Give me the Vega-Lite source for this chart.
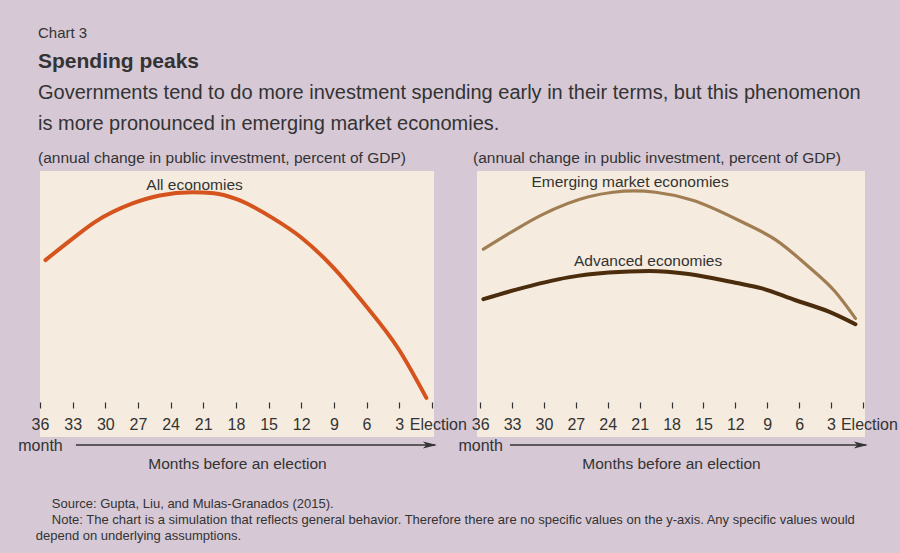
{
  "$schema": "https://vega.github.io/schema/vega-lite/v6.json",
  "background": "#d6c8d5",
  "padding": {"left": 17, "top": 25, "right": 4, "bottom": 12},
  "config": {
    "font": "Liberation Sans",
    "view": {"stroke": null},
    "title": {"color": "#333333", "anchor": "start", "fontWeight": "normal"}
  },
  "datasets": {
    "all": [
      {"month": 35.5, "value": 66.5}, {"month": 33, "value": 74.6}, {"month": 31, "value": 80.7},
      {"month": 27.5, "value": 87.8}, {"month": 25, "value": 90.8}, {"month": 22, "value": 92.0},
      {"month": 20, "value": 91.6}, {"month": 18, "value": 89.5}, {"month": 14.5, "value": 82.0},
      {"month": 12, "value": 75.0}, {"month": 9, "value": 63.5}, {"month": 6.5, "value": 51.5},
      {"month": 3, "value": 32.7}, {"month": 0.5, "value": 14.7}
    ],
    "groups": [
      {"group": "Emerging market economies", "month": 35.7, "value": 70.6},
      {"group": "Emerging market economies", "month": 33, "value": 77.2},
      {"group": "Emerging market economies", "month": 30.2, "value": 83.5},
      {"group": "Emerging market economies", "month": 25.8, "value": 90.3},
      {"group": "Emerging market economies", "month": 23.5, "value": 92.0},
      {"group": "Emerging market economies", "month": 21.5, "value": 92.5},
      {"group": "Emerging market economies", "month": 19.5, "value": 92.0},
      {"group": "Emerging market economies", "month": 16.1, "value": 89.1},
      {"group": "Emerging market economies", "month": 11.4, "value": 80.9},
      {"group": "Emerging market economies", "month": 8.2, "value": 74.1},
      {"group": "Emerging market economies", "month": 5.1, "value": 64.0},
      {"group": "Emerging market economies", "month": 2.6, "value": 54.6},
      {"group": "Emerging market economies", "month": 0.7, "value": 44.6},
      {"group": "Advanced economies", "month": 35.7, "value": 51.8},
      {"group": "Advanced economies", "month": 32.7, "value": 55.3},
      {"group": "Advanced economies", "month": 27.7, "value": 60.0},
      {"group": "Advanced economies", "month": 23.9, "value": 61.8},
      {"group": "Advanced economies", "month": 20.1, "value": 62.4},
      {"group": "Advanced economies", "month": 16.4, "value": 61.3},
      {"group": "Advanced economies", "month": 12.0, "value": 58.0},
      {"group": "Advanced economies", "month": 9.5, "value": 55.9},
      {"group": "Advanced economies", "month": 6.4, "value": 51.5},
      {"group": "Advanced economies", "month": 3.2, "value": 47.1},
      {"group": "Advanced economies", "month": 0.7, "value": 42.4}
    ],
    "labelsLeft": [{"label": "All economies", "month": 21.8, "value": 94.7}],
    "labelsRight": [
      {"label": "Emerging market economies", "month": 21.9, "value": 95.9},
      {"label": "Advanced economies", "month": 20.2, "value": 66.2}
    ]
  },
  "title": {
    "text": "depend on underlying assumptions.",
    "orient": "bottom",
    "anchor": "start",
    "fontSize": 13,
    "offset": 3,
    "dx": 18
  },
  "vconcat": [
    {
      "title": {
        "text": [
          "Source: Gupta, Liu, and Mulas-Granados (2015).",
          "Note: The chart is a simulation that reflects general behavior. Therefore there are no specific values on the y-axis. Any specific values would"
        ],
        "orient": "bottom",
        "anchor": "start",
        "fontSize": 13,
        "lineHeight": 16,
        "offset": 26,
        "dx": 34
      },
      "vconcat": [
        {
          "title": {"text": "Chart 3", "fontSize": 15, "frame": "group", "offset": 10, "dx": -2},
          "vconcat": [
            {
              "title": {
                "text": "Spending peaks",
                "fontSize": 21,
                "fontWeight": "bold",
                "frame": "group",
                "subtitle": [
                  "Governments tend to do more investment spending early in their terms, but this phenomenon",
                  "is more pronounced in emerging market economies."
                ],
                "subtitleFontSize": 20,
                "subtitleLineHeight": 31,
                "subtitlePadding": 11,
                "subtitleColor": "#333333",
                "offset": 17,
                "dx": -2
              },
              "bounds": "flush",
              "spacing": 43,
              "hconcat": [
                {
                  "width": 394,
                  "height": 266,
                  "title": {"text": "(annual change in public investment, percent of GDP)", "fontSize": 15.5, "frame": "group", "offset": 5, "dx": -2},
                  "view": {"fill": "#f5ecdf", "stroke": null},
                  "layer": [
                    {
                      "data": {"name": "all"},
                      "mark": {"type": "line", "color": "#d5541e", "strokeWidth": 4, "interpolate": "monotone", "strokeCap": "round"},
                      "encoding": {
                        "x": {
                          "field": "month", "type": "quantitative",
                          "scale": {"domain": [36, -0.2], "nice": false, "zero": false},
                          "axis": {
                            "values": [36, 33, 30, 27, 24, 21, 18, 15, 12, 9, 6, 3, 0],
                            "tickCount": 30,
                            "labelExpr": "datum.value == 0 ? 'Election' : datum.value == 36 ? ['36', 'month'] : datum.label",
                            "domain": false, "grid": false, "offset": -35,
                            "tickSize": 6, "tickColor": "#333333", "tickWidth": 1.2,
                            "labelFontSize": 16, "labelColor": "#333333", "labelPadding": 8, "labelLineHeight": 21,
                            "labelOverlap": false, "labelBound": false, "labelFlush": false,
                            "labelOffset": {"condition": {"test": "datum.value == 0", "value": 6}, "value": 0},
                            "title": "Months before an election", "titleFontSize": 15.5, "titleFontWeight": "normal",
                            "titleColor": "#333333", "titlePadding": 3
                          }
                        },
                        "y": {"field": "value", "type": "quantitative", "scale": {"domain": [0, 100], "nice": false}, "axis": null}
                      }
                    },
                    {
                      "data": {"name": "labelsLeft"},
                      "mark": {"type": "text", "fontSize": 15.5, "color": "#333333", "baseline": "middle"},
                      "encoding": {
                        "x": {"field": "month", "type": "quantitative"},
                        "y": {"field": "value", "type": "quantitative"},
                        "text": {"field": "label"}
                      }
                    },
                    {
                      "data": {"values": [{}]},
                      "mark": {"type": "rule", "color": "#333333", "strokeWidth": 1.5},
                      "encoding": {
                        "x": {"datum": 32.7, "type": "quantitative"},
                        "x2": {"datum": -0.3},
                        "y": {"datum": -3, "type": "quantitative"}
                      }
                    },
                    {
                      "data": {"values": [{}]},
                      "mark": {"type": "point", "shape": "M-1,-0.5L1,0L-1,0.5L-0.5,0Z", "size": 196, "filled": true, "color": "#333333", "opacity": 1},
                      "encoding": {
                        "x": {"datum": 0.18, "type": "quantitative"},
                        "y": {"datum": -3, "type": "quantitative"}
                      }
                    }
                  ]
                },
                {
                  "width": 388,
                  "height": 266,
                  "title": {"text": "(annual change in public investment, percent of GDP)", "fontSize": 15.5, "frame": "group", "offset": 5, "dx": -4},
                  "view": {"fill": "#f5ecdf", "stroke": null},
                  "layer": [
                    {
                      "data": {"name": "groups"},
                      "mark": {"type": "line", "interpolate": "monotone", "strokeCap": "round"},
                      "encoding": {
                        "x": {
                          "field": "month", "type": "quantitative",
                          "scale": {"domain": [36.3, -0.2], "nice": false, "zero": false},
                          "axis": {
                            "values": [36, 33, 30, 27, 24, 21, 18, 15, 12, 9, 6, 3, 0],
                            "tickCount": 30,
                            "labelExpr": "datum.value == 0 ? 'Election' : datum.value == 36 ? ['36', 'month'] : datum.label",
                            "domain": false, "grid": false, "offset": -35,
                            "tickSize": 6, "tickColor": "#333333", "tickWidth": 1.2,
                            "labelFontSize": 16, "labelColor": "#333333", "labelPadding": 8, "labelLineHeight": 21,
                            "labelOverlap": false, "labelBound": false, "labelFlush": false,
                            "labelOffset": {"condition": {"test": "datum.value == 0", "value": 6}, "value": 0},
                            "title": "Months before an election", "titleFontSize": 15.5, "titleFontWeight": "normal",
                            "titleColor": "#333333", "titlePadding": 3
                          }
                        },
                        "y": {"field": "value", "type": "quantitative", "scale": {"domain": [0, 100], "nice": false}, "axis": null},
                        "color": {
                          "field": "group", "type": "nominal",
                          "scale": {"domain": ["Emerging market economies", "Advanced economies"], "range": ["#a07d53", "#4b2c0c"]},
                          "legend": null
                        },
                        "strokeWidth": {
                          "field": "group", "type": "nominal",
                          "scale": {"domain": ["Emerging market economies", "Advanced economies"], "range": [3.2, 4]},
                          "legend": null
                        }
                      }
                    },
                    {
                      "data": {"name": "labelsRight"},
                      "mark": {"type": "text", "fontSize": 15.5, "color": "#333333", "baseline": "middle"},
                      "encoding": {
                        "x": {"field": "month", "type": "quantitative"},
                        "y": {"field": "value", "type": "quantitative"},
                        "text": {"field": "label"}
                      }
                    },
                    {
                      "data": {"values": [{}]},
                      "mark": {"type": "rule", "color": "#333333", "strokeWidth": 1.5},
                      "encoding": {
                        "x": {"datum": 33.2, "type": "quantitative"},
                        "x2": {"datum": -0.3},
                        "y": {"datum": -3, "type": "quantitative"}
                      }
                    },
                    {
                      "data": {"values": [{}]},
                      "mark": {"type": "point", "shape": "M-1,-0.5L1,0L-1,0.5L-0.5,0Z", "size": 196, "filled": true, "color": "#333333", "opacity": 1},
                      "encoding": {
                        "x": {"datum": 0.19, "type": "quantitative"},
                        "y": {"datum": -3, "type": "quantitative"}
                      }
                    }
                  ]
                }
              ]
            }
          ]
        }
      ]
    }
  ]
}
